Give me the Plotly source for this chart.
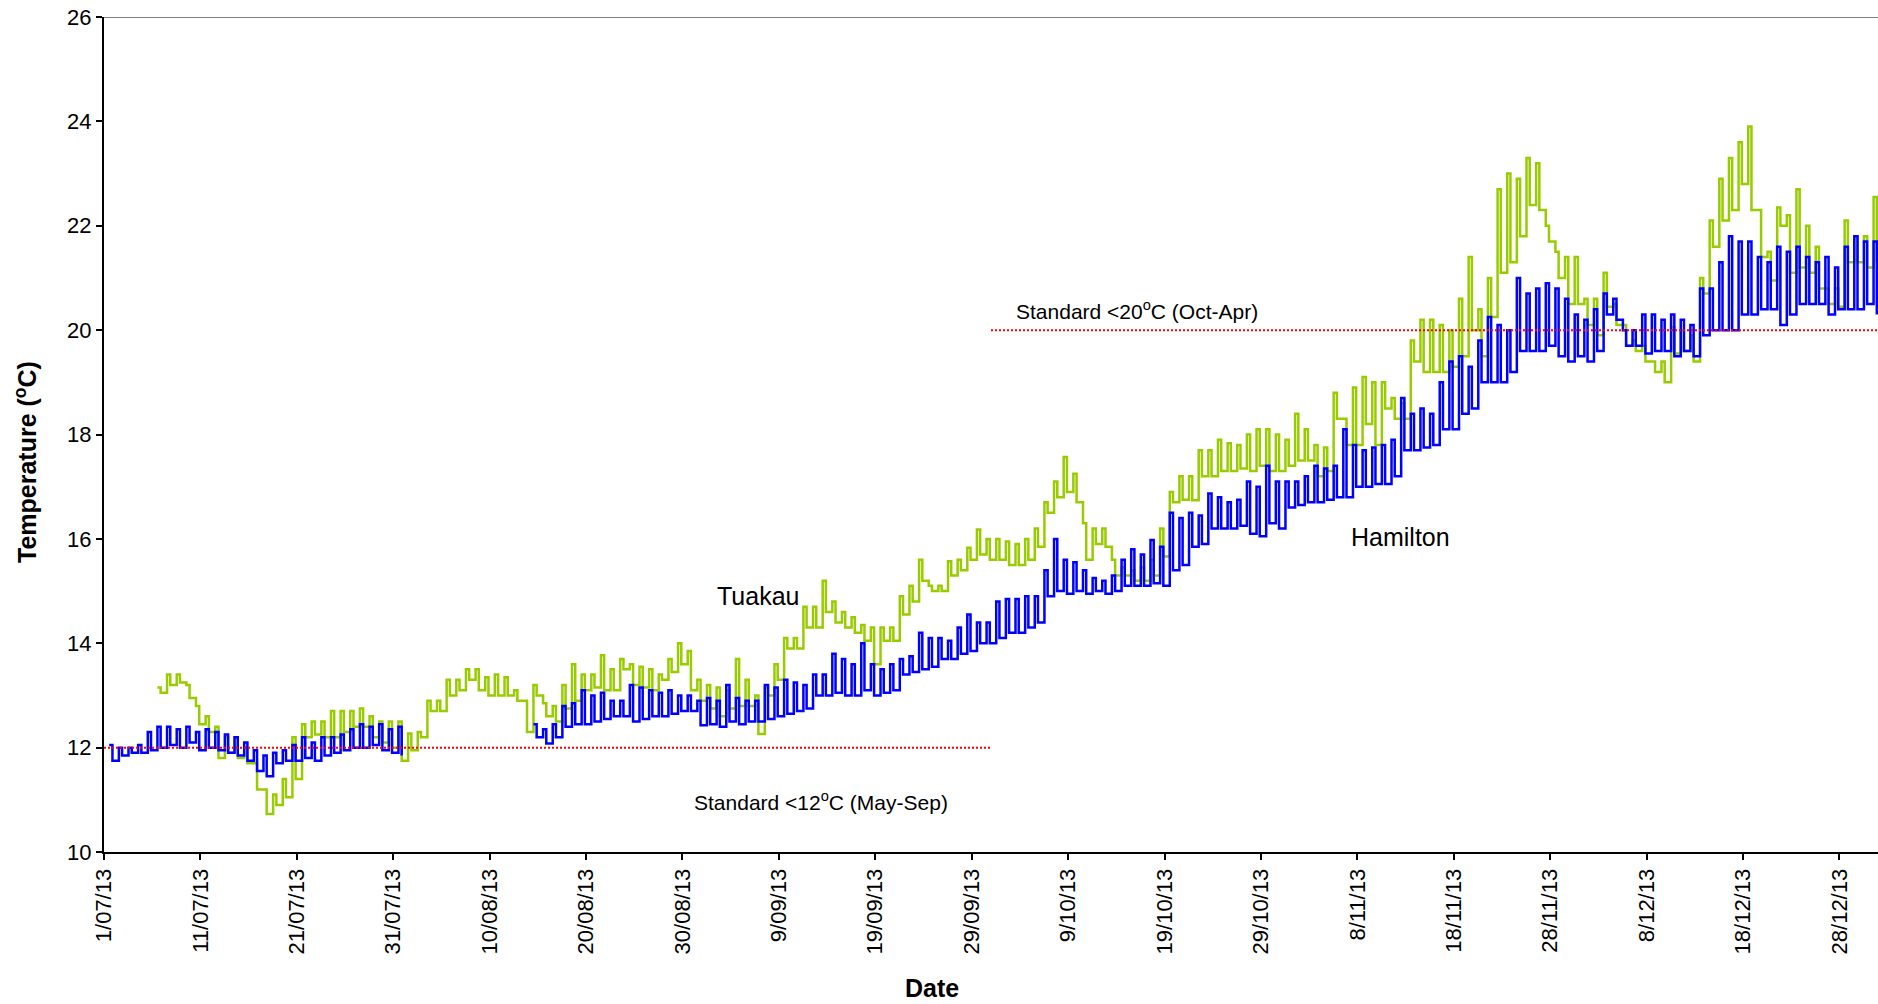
import pandas as pd
import plotly.graph_objects as go

# ---------------- data (daily low / high readings, day 0 = 1 Jul 2013) ----------------
start_date = "2013-07-01"
N = None

hamilton_lo = [
    11.75, 11.85, 11.9, 11.9, 11.95, 12.0, 12.05, 12.0, 12.1, 11.95,
    12.0, 11.95, 11.9, 11.85, 11.75, 11.55, 11.45, 11.7, 11.75, 11.75,
    11.8, 11.75, 11.85, 11.9, 11.95, 12.0, 12.0, 12.05, 11.95, 11.9,
    11.85, N, N, N, N, N, N, N, N, N,
    N, N, N, N, 12.2, 12.08, 12.2, 12.4, 12.45, 12.45,
    12.5, 12.55, 12.6, 12.6, 12.5, 12.55, 12.6, 12.6, 12.65, 12.7,
    12.7, 12.43, 12.45, 12.4, 12.5, 12.45, 12.5, 12.5, 12.55, 12.6,
    12.65, 12.7, 12.75, 13.0, 13.0, 13.05, 13.0, 13.0, 13.1, 13.0,
    13.05, 13.1, 13.4, 13.45, 13.5, 13.55, 13.7, 13.7, 13.8, 13.85,
    14.0, 14.0, 14.1, 14.2, 14.2, 14.3, 14.4, 14.9, 15.0, 14.95,
    15.0, 14.95, 15.0, 14.95, 15.0, 15.1, 15.1, 15.1, 15.15, 15.1,
    15.4, 15.5, 15.85, 15.9, 16.2, 16.2, 16.2, 16.25, 16.1, 16.05,
    16.3, 16.2, 16.6, 16.65, 16.7, 16.7, 16.75, 16.8, 16.8, 17.0,
    17.0, 17.05, 17.05, 17.2, 17.7, 17.7, 17.75, 17.8, 18.1, 18.1,
    18.4, 18.5, 19.0, 19.0, 19.0, 19.2, 19.6, 19.6, 19.6, 19.7,
    19.5, 19.4, 19.5, 19.4, 19.6, 20.3, 20.2, 19.7, 19.7, 19.55,
    19.6, 19.6, 19.5, 19.6, 19.5, 19.9, 20.0, 20.0, 20.0, 20.3,
    20.3, 20.4, 20.4, 20.1, 20.3, 20.5, 20.5, 20.5, 20.3, 20.4,
    20.4, 20.4, 20.5, 20.3,
]
hamilton_hi = [
    12.05, 12.0, 12.0, 12.05, 12.3, 12.4, 12.4, 12.35, 12.4, 12.3,
    12.35, 12.3, 12.25, 12.2, 12.1, 11.95, 11.85, 11.9, 11.95, 12.05,
    12.2, 12.1, 12.2, 12.2, 12.25, 12.35, 12.45, 12.4, 12.45, 12.35,
    12.4, N, N, N, N, N, N, N, N, N,
    N, N, N, N, 12.45, 12.35, 12.45, 12.8, 12.85, 13.1,
    13.0, 13.05, 12.9, 12.9, 13.2, 13.15, 13.1, 13.05, 13.1, 13.0,
    13.0, 12.9, 12.95, 12.9, 13.2, 12.95, 12.9, 12.9, 13.2, 13.15,
    13.3, 13.25, 13.2, 13.4, 13.4, 13.8, 13.7, 13.6, 14.0, 13.6,
    13.5, 13.6, 13.7, 13.75, 14.2, 14.1, 14.1, 14.05, 14.3, 14.55,
    14.4, 14.4, 14.8, 14.85, 14.85, 14.9, 14.9, 15.4, 16.0, 15.6,
    15.55, 15.4, 15.25, 15.2, 15.3, 15.6, 15.8, 15.7, 15.98, 15.85,
    16.5, 16.4, 16.5, 16.45, 16.87, 16.8, 16.7, 16.75, 17.1, 17.0,
    17.4, 17.1, 17.1, 17.1, 17.2, 17.4, 17.35, 17.4, 18.1, 17.8,
    17.7, 17.75, 17.8, 17.9, 18.7, 18.4, 18.5, 18.4, 19.0, 19.4,
    19.5, 19.3, 19.8, 20.25, 20.1, 20.0, 21.0, 20.7, 20.8, 20.9,
    20.8, 20.6, 20.3, 20.2, 20.4, 20.7, 20.6, 20.0, 20.0, 20.3,
    20.3, 20.2, 20.3, 20.2, 20.1, 20.8, 20.8, 21.3, 21.8, 21.7,
    21.7, 21.4, 21.3, 21.6, 21.5, 21.6, 21.4, 21.3, 21.4, 21.2,
    21.6, 21.8, 21.7, 21.7,
]
tuakau_lo = [
    N, N, N, N, N, 13.05, 13.2, 13.25, 12.95, 12.45,
    12.3, 11.8, 11.9, 11.8, 11.7, 11.2, 10.73, 10.9, 11.05, 11.4,
    12.2, 12.25, 12.2, 12.2, 12.3, 12.4, 12.4, 12.2, 12.1, 12.0,
    11.75, 11.95, 12.2, 12.7, 12.7, 13.0, 13.1, 13.3, 13.1, 13.0,
    13.0, 13.0, 12.9, 12.3, 13.0, 12.6, 12.5, 12.75, 12.9, 13.1,
    13.15, 13.1, 13.1, 13.5, 13.2, 13.15, 13.1, 13.3, 13.45, 13.6,
    13.1, 12.9, 12.75, 12.6, 12.75, 12.8, 12.8, 12.26, 13.0, 13.3,
    13.9, 13.9, 14.3, 14.3, 14.6, 14.4, 14.3, 14.2, 14.05, 13.6,
    14.05, 14.05, 14.55, 14.8, 15.2, 15.0, 15.0, 15.3, 15.4, 15.6,
    15.7, 15.6, 15.6, 15.5, 15.5, 15.6, 15.85, 16.5, 16.8, 16.9,
    16.7, 15.6, 15.9, 15.85, 15.3, 15.3, 15.2, 15.2, 15.3, 15.66,
    16.7, 16.75, 16.74, 17.2, 17.2, 17.3, 17.3, 17.35, 17.3, 17.4,
    17.3, 17.3, 17.4, 17.5, 17.5, 17.2, 17.3, 18.3, 17.8, 17.8,
    18.2, 17.8, 18.5, 18.3, 18.3, 19.4, 19.2, 19.2, 19.2, 19.3,
    19.5, 20.0, 19.5, 20.25, 21.1, 21.3, 21.8, 22.4, 22.3, 21.7,
    21.0, 20.5, 20.5, 20.1, 19.9, 20.45, 20.1, 19.7, 19.6, 19.4,
    19.2, 19.0, 19.55, 19.6, 19.4, 20.7, 21.6, 22.1, 22.3, 22.8,
    22.3, 21.4, 20.95, 22.0, 21.1, 21.2, 21.1, 20.8, 20.5, 20.45,
    21.3, 21.3, 21.2, 21.3,
]
tuakau_hi = [
    N, N, N, N, N, 13.15, 13.4, 13.4, 13.2, 12.8,
    12.6, 12.4, 12.2, 12.2, 12.0, 11.7, 11.2, 11.1, 11.4, 12.2,
    12.45, 12.5, 12.5, 12.7, 12.7, 12.7, 12.75, 12.6, 12.5, 12.5,
    12.5, 12.27, 12.3, 12.9, 12.9, 13.3, 13.3, 13.5, 13.5, 13.35,
    13.4, 13.35, 13.1, 12.9, 13.2, 12.85, 12.8, 13.2, 13.6, 13.4,
    13.4, 13.77, 13.5, 13.7, 13.6, 13.55, 13.5, 13.4, 13.7, 14.0,
    13.85, 13.3, 13.2, 13.15, 13.1, 13.7, 13.3, 13.0, 13.15, 13.6,
    14.1, 14.1, 14.7, 14.7, 15.2, 14.8, 14.6, 14.5, 14.35, 14.3,
    14.3, 14.3, 14.9, 15.1, 15.6, 15.1, 15.1, 15.57, 15.6, 15.83,
    16.18, 16.0, 16.0, 15.95, 15.9, 16.0, 16.2, 16.7, 17.1, 17.57,
    17.25, 16.3, 16.2, 16.2, 15.6, 15.45, 15.4, 15.45, 15.6, 16.2,
    16.9, 17.2, 17.2, 17.7, 17.7, 17.9, 17.83, 17.8, 18.0, 18.1,
    18.1, 18.0, 17.9, 18.4, 18.1, 17.8, 17.75, 18.8, 18.3, 18.9,
    19.1, 19.0, 19.0, 18.7, 18.6, 19.8, 20.2, 20.2, 20.1, 20.0,
    20.6, 21.4, 20.4, 21.0, 22.7, 23.0, 22.9, 23.3, 23.2, 22.0,
    21.5, 21.4, 21.4, 20.6, 20.6, 21.1, 20.5, 20.1, 19.8, 19.7,
    19.4, 19.4, 20.06, 20.0, 19.9, 21.0, 22.1, 22.9, 23.3, 23.6,
    23.9, 22.3, 21.5, 22.35, 22.2, 22.7, 22.0, 21.6, 20.8, 20.8,
    22.1, 21.8, 21.8, 22.55,
]

# water quality standards
standard_starts = ["2013-07-01", "2013-10-01"]
standard_ends = ["2013-10-01", "2014-01-01"]
standard_values = [12, 20]

tick_dates = ["2013-07-01", "2013-07-11", "2013-07-21", "2013-07-31", "2013-08-10",
              "2013-08-20", "2013-08-30", "2013-09-09", "2013-09-19", "2013-09-29",
              "2013-10-09", "2013-10-19", "2013-10-29", "2013-11-08", "2013-11-18",
              "2013-11-28", "2013-12-08", "2013-12-18", "2013-12-28"]
tick_labels = ["1/07/13", "11/07/13", "21/07/13", "31/07/13", "10/08/13",
               "20/08/13", "30/08/13", "9/09/13", "19/09/13", "29/09/13",
               "9/10/13", "19/10/13", "29/10/13", "8/11/13", "18/11/13",
               "28/11/13", "8/12/13", "18/12/13", "28/12/13"]
y_ticks = [10, 12, 14, 16, 18, 20, 22, 24, 26]

# ---------------- build series ----------------
base = pd.Timestamp(start_date)


def series(lo, hi):
    # afternoon high, then evening/overnight low for each day
    xs, ys = [], []
    for d, (a, b) in enumerate(zip(lo, hi)):
        xs.append(base + pd.Timedelta(hours=24 * d + 13))
        ys.append(b)
        xs.append(base + pd.Timedelta(hours=24 * d + 21))
        ys.append(a)
    return xs, ys


FONT = "Liberation Sans, Arial, sans-serif"
fig = go.Figure()

tx, ty = series(tuakau_lo, tuakau_hi)
fig.add_trace(go.Scatter(x=tx, y=ty, mode="lines", name="Tuakau",
                         line=dict(color="#99cc00", width=2.5, shape="hv"),
                         connectgaps=False))
hx, hy = series(hamilton_lo, hamilton_hi)
fig.add_trace(go.Scatter(x=hx, y=hy, mode="lines", name="Hamilton",
                         line=dict(color="#0000ff", width=2.5, shape="hv"),
                         connectgaps=False))
for s, e, v in zip(standard_starts, standard_ends, standard_values):
    fig.add_trace(go.Scatter(x=[s, e], y=[v, v], mode="lines",
                             line=dict(color="#ff0000", width=2, dash="2px,2px")))

fig.update_layout(
    width=1878, height=1004,
    margin=dict(l=104, r=0, t=17, b=152),
    paper_bgcolor="white", plot_bgcolor="white",
    showlegend=False,
    font=dict(family=FONT, size=22, color="black"),
    xaxis=dict(type="date", range=["2013-07-01", "2014-01-01"],
               tickvals=tick_dates, ticktext=tick_labels, tickangle=-90,
               ticks="outside", ticklen=6, tickwidth=2, tickcolor="black",
               showline=True, linecolor="black", linewidth=2,
               showgrid=False, zeroline=False,
               tickfont=dict(family=FONT, size=22, color="black")),
    yaxis=dict(range=[10, 26], tickvals=y_ticks,
               ticks="outside", ticklen=6, tickwidth=2, tickcolor="black",
               showline=True, linecolor="black", linewidth=2,
               showgrid=False, zeroline=False,
               tickfont=dict(family=FONT, size=22, color="black")),
)

# top border of plot area
fig.add_shape(type="line", xref="paper", yref="y", x0=0, x1=1, y0=26, y1=26,
              line=dict(color="#808080", width=2))

ann = [
    dict(text="<b>Temperature (<sup>o</sup>C)</b>", xref="paper", yref="paper",
         x=-0.044, y=0.467, textangle=-90, font=dict(size=25),
         xanchor="center", yanchor="middle"),
    dict(text="<b>Date</b>", xref="paper", yref="paper", x=0.4667, y=-0.163,
         font=dict(size=25), xanchor="center", yanchor="middle"),
    dict(text="Tuakau", x="2013-09-06 19:00", y=14.9, font=dict(size=25)),
    dict(text="Hamilton", x="2013-11-12 12:00", y=16.03, font=dict(size=25)),
    dict(text="Standard &lt;20<sup>o</sup>C (Oct-Apr)", x="2013-10-16 03:00",
         y=20.38, font=dict(size=21)),
    dict(text="Standard &lt;12<sup>o</sup>C (May-Sep)", x="2013-09-13 10:00",
         y=10.98, font=dict(size=21)),
]
for a in ann:
    a.setdefault("xref", "x")
    a.setdefault("yref", "y")
    a.setdefault("xanchor", "center")
    a.setdefault("yanchor", "middle")
    a["showarrow"] = False
    a["font"] = dict(family=FONT, color="black", **a["font"])
    fig.add_annotation(**a)

fig.write_html("out.html", config={"displayModeBar": False},
               post_script="document.body.style.margin='0';document.body.style.overflow='hidden';")
